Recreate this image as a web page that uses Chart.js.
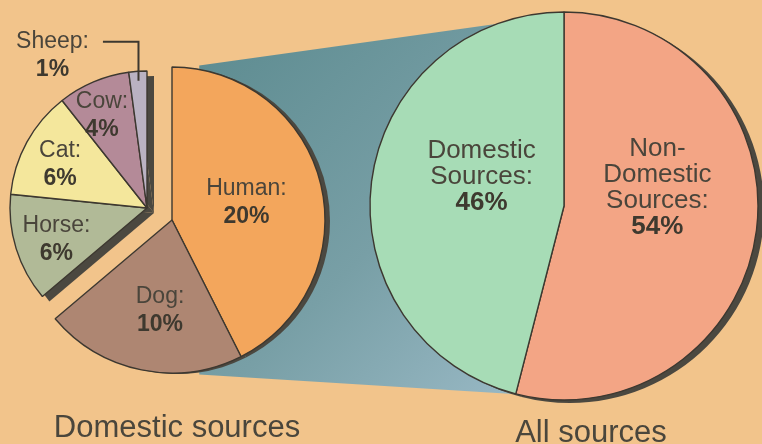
<!DOCTYPE html>
<html>
<head>
<meta charset="utf-8">
<title>Domestic sources / All sources</title>
<script src="https://cdn.jsdelivr.net/npm/chart.js@4.4.0/dist/chart.umd.min.js"></script>
<style>
  body { margin: 0; background: #f2c48b; }
  #wrap { position: relative; width: 762px; height: 444px; overflow: hidden;
          font-family: "Liberation Sans", Arial, sans-serif; }
  canvas { position: absolute; left: 0; top: 0; }
  .caption { position: absolute; color: #4a463c; font-size: 31px; white-space: nowrap;
             transform: translateX(-50%); line-height: 1; }
</style>
</head>
<body>
<div id="wrap">
  <canvas id="cAll" width="762" height="444"></canvas>
  <canvas id="cRest" width="762" height="444"></canvas>
  <canvas id="cHuman" width="762" height="444"></canvas>
  <div class="caption" style="left:177px; top:411px;">Domestic sources</div>
  <div class="caption" style="left:591px; top:416px;">All sources</div>
</div>

<script>
// data
var domesticCats = ['Human', 'Dog', 'Horse', 'Cat', 'Cow', 'Sheep'];
var domesticVals = [20, 10, 6, 6, 4, 1];
var domesticColors = ['#f3a65c', '#ae8672', '#b1ba97', '#f4e79c', '#b48a98', '#bab2c2'];
var pulledOut = ['Human', 'Dog'];   // the wedge that is blown up on the right

var allCats = ['Non-Domestic Sources', 'Domestic Sources'];
var allVals = [54, 46];
var allColors = ['#f3a585', '#a7dcb6'];

var ink = '#4a453b';
var edge = '#3d3830';
var shadowCol = '#4b4840';

function domLines(i) { return [domesticCats[i] + ':', domesticVals[i] + '%']; }
function allLines(i) {
  var words = allCats[i].replace('Non-', 'Non- ').split(' ');
  words[words.length - 1] += ':';
  return words.concat([allVals[i] + '%']);
}

// where each label sits: fraction of radius + angle tweak (deg)
var domPlace = [
  { f: 0.50, da: 0 }, { f: 0.60, da: -4 }, { f: 0.70, da: -2 },
  { f: 0.71, da: -2 }, { f: 0.75, da: -3 }, { f: 0.93, da: 0, callout: [-86, -25] }
];
var allPlace = [{ f: 0.49, da: -18 }, { f: 0.45, da: 12 }];

function decor(cfg) {
  return {
    id: 'decor',
    beforeDatasetsDraw: function (chart) {
      var ctx = chart.ctx;
      if (cfg.before) cfg.before(chart, ctx);
      var arcs = chart.getDatasetMeta(0).data;
      ctx.save();
      ctx.fillStyle = shadowCol;
      arcs.forEach(function (a, i) {
        if (!cfg.show(i)) return;
        var sx = a.x + cfg.shadow[0], sy = a.y + cfg.shadow[1];
        ctx.beginPath();
        ctx.moveTo(sx, sy);
        ctx.arc(sx, sy, a.outerRadius, a.startAngle, a.endAngle);
        ctx.closePath();
        ctx.fill();
      });
      ctx.restore();
    },
    afterDatasetsDraw: function (chart) {
      var ctx = chart.ctx;
      var arcs = chart.getDatasetMeta(0).data;
      ctx.save();
      ctx.textAlign = 'center';
      ctx.textBaseline = 'middle';
      arcs.forEach(function (a, i) {
        if (!cfg.show(i)) return;
        var p = cfg.place[i];
        var ang = (a.startAngle + a.endAngle) / 2 + p.da * Math.PI / 180;
        var px = a.x + Math.cos(ang) * a.outerRadius * p.f;
        var py = a.y + Math.sin(ang) * a.outerRadius * p.f;
        var lines = cfg.lines(i);
        if (p.callout) {
          var cx = px + p.callout[0], cy = py + p.callout[1];
          var topY = cy - cfg.lh / 2;
          ctx.font = cfg.size + 'px "Liberation Sans", Arial, sans-serif';
          var w = ctx.measureText(lines[0]).width;
          ctx.strokeStyle = edge;
          ctx.lineWidth = 2;
          ctx.beginPath();
          ctx.moveTo(cx + w / 2 + 14, topY);
          ctx.lineTo(px, topY);
          ctx.lineTo(px, py);
          ctx.stroke();
          px = cx; py = cy;
        }
        var y0 = py - (lines.length - 1) * cfg.lh / 2;
        lines.forEach(function (t, k) {
          var last = k === lines.length - 1;
          ctx.font = (last ? 'bold ' : '') + cfg.size + 'px "Liberation Sans", Arial, sans-serif';
          ctx.fillStyle = last ? '#3e392f' : ink;
          ctx.fillText(t, px, y0 + k * cfg.lh);
        });
      });
      ctx.restore();
    }
  };
}

function pieConfig(labels, values, colors, show, radius, pad, plugin) {
  return {
    type: 'pie',
    data: {
      labels: labels,
      datasets: [{
        data: values,
        backgroundColor: colors.map(function (c, i) { return show(i) ? c : 'rgba(0,0,0,0)'; }),
        borderColor: edge,
        borderWidth: colors.map(function (c, i) { return show(i) ? 1.4 : 0; })
      }]
    },
    options: {
      responsive: false,
      animation: false,
      events: [],
      radius: radius,
      layout: { padding: pad },
      plugins: { legend: { display: false }, tooltip: { enabled: false } }
    },
    plugins: [plugin]
  };
}

function isPulled(i) { return pulledOut.indexOf(domesticCats[i]) >= 0; }
function isRest(i) { return !isPulled(i); }

// pulled-out wedge (Human + Dog), centre (172,220)
var humanChart = new Chart(document.getElementById('cHuman'), pieConfig(
  domesticCats, domesticVals, domesticColors, isPulled, 153,
  { left: 0, right: 418, top: 0, bottom: 4 },
  decor({ show: isPulled, shadow: [5, 1], place: domPlace, lines: domLines, size: 23, lh: 28 })
));

// remaining domestic slices, centre (147,208)
var restChart = new Chart(document.getElementById('cRest'), pieConfig(
  domesticCats, domesticVals, domesticColors, isRest, 137,
  { left: 0, right: 468, top: 0, bottom: 28 },
  decor({ show: isRest, shadow: [7, 5], place: domPlace, lines: domLines, size: 23, lh: 28 })
));

// band joining the pulled-out wedge to the big pie
function drawBand(chart, ctx) {
  var h = humanChart.getDatasetMeta(0).data[0];
  var a = chart.getDatasetMeta(0).data[0];
  var r1 = h.outerRadius + 4, r2 = a.outerRadius;
  function pt(cx, cy, r, deg) {
    var t = deg * Math.PI / 180;
    return [cx + Math.cos(t) * r, cy + Math.sin(t) * r];
  }
  var p1 = pt(h.x, h.y, r1, -80), p2 = pt(a.x, a.y, r2, -110),
      p3 = pt(a.x, a.y, r2, 104), p4 = pt(h.x, h.y, r1, 80);
  var g = ctx.createLinearGradient(p1[0], p1[1], p3[0], p3[1]);
  g.addColorStop(0, '#5f8d92');
  g.addColorStop(0.55, '#789fa6');
  g.addColorStop(1, '#98b8c4');
  ctx.save();
  ctx.fillStyle = g;
  ctx.beginPath();
  ctx.moveTo(p1[0], p1[1]);
  ctx.lineTo(p2[0], p2[1]);
  ctx.lineTo(p3[0], p3[1]);
  ctx.lineTo(p4[0], p4[1]);
  ctx.closePath();
  ctx.fill();
  ctx.restore();
}

// all sources, centre (564,206)
var allChart = new Chart(document.getElementById('cAll'), pieConfig(
  allCats, allVals, allColors, function () { return true; }, 194,
  { left: 370, right: 4, top: 12, bottom: 44 },
  decor({ show: function () { return true; }, shadow: [6, 3], place: allPlace,
          lines: allLines, size: 26, lh: 26, before: drawBand })
));
</script>
</body>
</html>
